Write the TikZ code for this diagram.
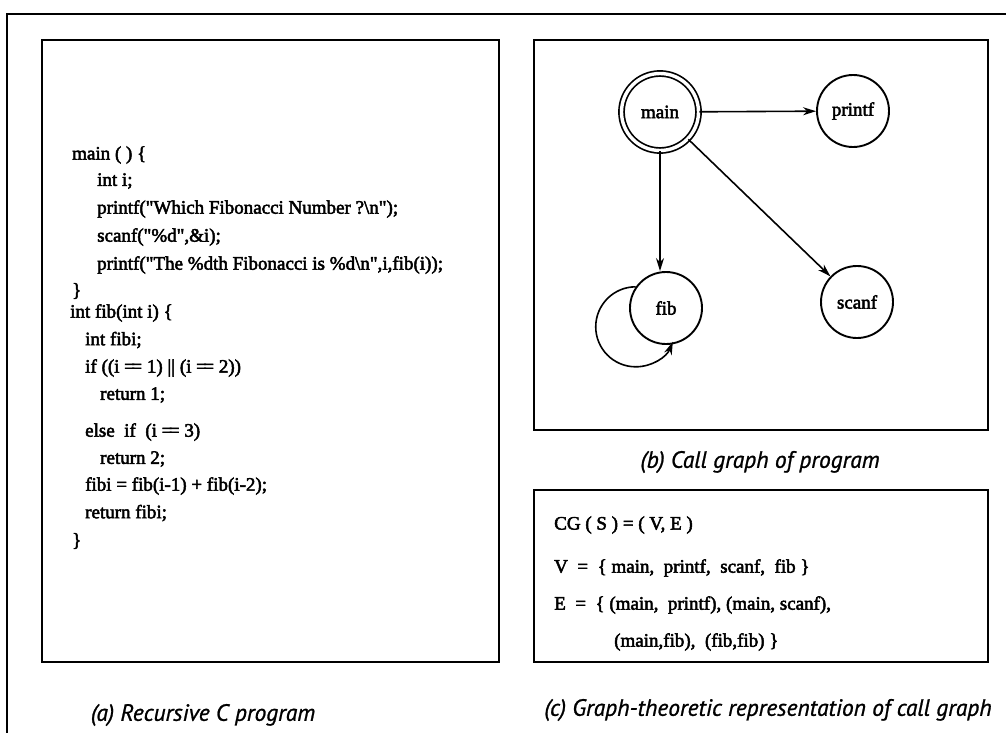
\documentclass[tikz,border=0pt]{standalone}
\usepackage{fontspec}
\setmainfont{Liberation Serif}
\newfontfamily\codefont[FakeBold=2.6]{Liberation Serif}
\newfontfamily\capfont[FakeBold=1.0]{PT Sans}
\usetikzlibrary{arrows.meta,calc}

% a long double bar, as the listing prints "=="
\newcommand{\eqeq}{=\kern-3.5pt=}

\begin{document}
\begin{tikzpicture}[x=1pt,y=-1pt,
  frame/.style={line width=2.4pt},
  panel/.style={draw,line width=1.9pt,inner sep=0pt},
  code/.style={anchor=west,inner sep=0pt,font=\codefont\fontsize{19}{20}\selectfont},
  caption/.style={inner sep=0pt,font=\capfont\itshape\fontsize{23.5}{27}\selectfont},
  fn/.style={circle,draw,line width=1.9pt,minimum size=72pt,inner sep=0pt,
             font=\codefont\fontsize{19}{20}\selectfont},
  entry/.style={fn,double,double distance=3.4pt,line width=1.7pt,minimum size=77pt},
  call/.style={-{Stealth[length=13pt,width=8pt]},line width=1.6pt}]

\useasboundingbox (0,0) rectangle (1006,733);

% outer frame (open at the right and bottom)
\coordinate (fbl) at (7,733);
\coordinate (ftl) at (7,14);
\coordinate (ftr) at (1006,14);
\draw[frame] (fbl) -- (ftl) -- (ftr);

% panels
\node[panel,minimum width=457pt,minimum height=622pt] (pa) at (270.5,351) {};
\node[panel,minimum width=454pt,minimum height=390pt] (pb) at (761,235) {};
\node[panel,minimum width=454pt,minimum height=172pt] (pc) at (761,576) {};

% (a) the program
\node[code] (l1)  at (72,155) {main ( ) \{};
\node[code] (l2)  at (97,181) {int i;};
\node[code] (l3)  at (97,209) {printf("Which Fibonacci Number ?\textbackslash n");};
\node[code] (l4)  at (97,237) {scanf("\%d",\&i);};
\node[code] (l5)  at (97,265) {printf("The \%dth Fibonacci is \%d\textbackslash n",i,fib(i));};
\node[code] (l6)  at (72,291) {\}};
\node[code] (l7)  at (70,313) {int fib(int i) \{};
\node[code] (l8)  at (85,340) {int fibi;};
\node[code] (l9)  at (85,368) {if ((i \eqeq{} 1) || (i \eqeq{} 2))};
\node[code] (l10) at (100,395) {return 1;};
\node[code] (l11) at (85,432) {else\ \ if\ \ (i \eqeq{} 3)};
\node[code] (l12) at (100,459) {return 2;};
\node[code] (l13) at (85,486) {fibi = fib(i-1) + fib(i-2);};
\node[code] (l14) at (85,513) {return fibi;};
\node[code] (l15) at (72,541) {\}};

% (b) the call graph
\node[entry] (main)   at (660,112) {main};
\node[fn]    (printf) at (853,111) {printf};
\node[fn]    (fib)    at (666,308) {fib};
\node[fn]    (scanf)  at (857,302) {scanf};

\draw[call] (main) -- (printf);
\draw[call] (main.south) -- (main.south |- fib.north);
\draw[call] (main) -- (scanf);
\draw[call] (fib.145) arc[start angle=-90,end angle=-338,radius=40];

% (c) graph-theoretic form
\node[code] (c1) at (554,525) {CG ( S ) = ( V, E )};
\node[code] (c2) at (554,568) {V\ \ =\ \ \{ main,\ \ printf,\ \ scanf,\ \ fib \}};
\node[code] (c3) at (554,605) {E\ \ =\ \ \{ (main,\ \ printf), (main, scanf),};
\node[code] (c4) at (614,642) {(main,fib),\ \ (fib,fib) \}};

% captions
\node[caption] (ca) at (203,715) {(a) Recursive C program};
\node[caption] (cb) at (760,462) {(b) Call graph of program};
\node[caption] (cc) at (768,710) {(c) Graph-theoretic representation of call graph};
\end{tikzpicture}
\end{document}
